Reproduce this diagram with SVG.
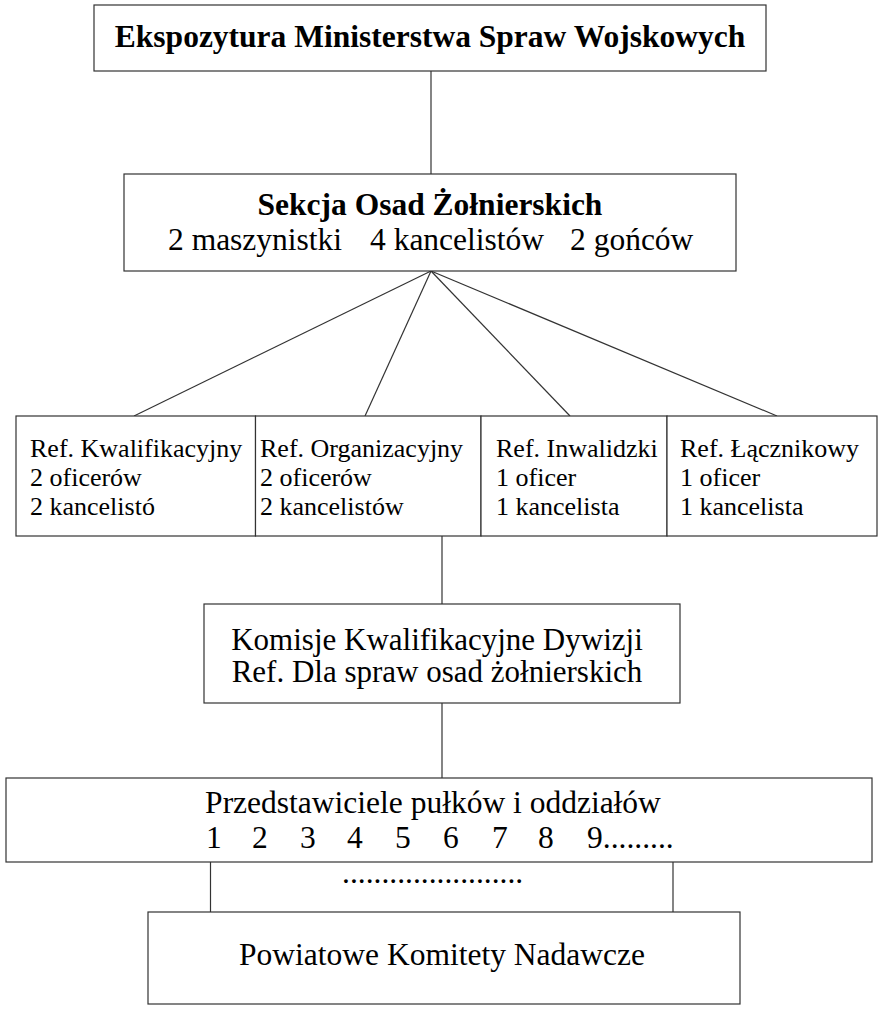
<svg xmlns="http://www.w3.org/2000/svg" width="879" height="1009" viewBox="0 0 879 1009">
<style>
.box{fill:#fff;stroke:#333;stroke-width:1.2}
.ln{stroke:#333;stroke-width:1.2;fill:none}
.t{font-family:"Liberation Serif","Times New Roman",serif;fill:#000}
.b{font-weight:bold;font-size:31.5px}
.r{font-size:31.5px}
.s{font-size:26px}
</style>
<rect width="879" height="1009" fill="#fff"/>
<g id="connectors">
<line class="ln" x1="431" y1="71" x2="431" y2="174"/>
<line class="ln" x1="431" y1="271" x2="134" y2="416"/>
<line class="ln" x1="431" y1="271" x2="365" y2="416"/>
<line class="ln" x1="431" y1="271" x2="570" y2="416"/>
<line class="ln" x1="431" y1="271" x2="777" y2="416"/>
<line class="ln" x1="442" y1="536" x2="442" y2="604"/>
<line class="ln" x1="442" y1="703" x2="442" y2="778"/>
<line class="ln" x1="210.5" y1="862" x2="210.5" y2="912"/>
<line class="ln" x1="673" y1="862" x2="673" y2="912"/>
</g>
<g id="ekspozytura">
<rect class="box" x="94" y="5" width="672" height="66"/>
<text class="t b" x="430" y="47" text-anchor="middle">Ekspozytura Ministerstwa Spraw Wojskowych</text>
</g>
<g id="sekcja">
<rect class="box" x="124" y="174" width="612" height="97"/>
<text class="t b" x="430" y="215" text-anchor="middle">Sekcja Osad Żołnierskich</text>
<text class="t r" y="250"><tspan x="168">2 maszynistki</tspan><tspan x="370">4 kancelistów</tspan><tspan x="570">2 gońców</tspan></text>
</g>
<g id="ref-kwalifikacyjny">
<rect class="box" x="16" y="416" width="239.5" height="120"/>
<text class="t s"><tspan x="30" y="457">Ref. Kwalifikacyjny</tspan><tspan x="30" y="486">2 oficerów</tspan><tspan x="30" y="515">2 kancelistó</tspan></text>
</g>
<g id="ref-organizacyjny">
<rect class="box" x="255.5" y="416" width="225.5" height="120"/>
<text class="t s"><tspan x="260" y="457">Ref. Organizacyjny</tspan><tspan x="260" y="486">2 oficerów</tspan><tspan x="260" y="515">2 kancelistów</tspan></text>
</g>
<g id="ref-inwalidzki">
<rect class="box" x="481" y="416" width="186" height="120"/>
<text class="t s"><tspan x="496" y="457">Ref. Inwalidzki</tspan><tspan x="496" y="486">1 oficer</tspan><tspan x="496" y="515">1 kancelista</tspan></text>
</g>
<g id="ref-lacznikowy">
<rect class="box" x="667" y="416" width="210" height="120"/>
<text class="t s"><tspan x="680" y="457">Ref. Łącznikowy</tspan><tspan x="680" y="486">1 oficer</tspan><tspan x="680" y="515">1 kancelista</tspan></text>
</g>
<g id="komisje">
<rect class="box" x="204" y="604" width="476" height="99"/>
<text class="t" style="font-size:31px" text-anchor="middle"><tspan x="437" y="650">Komisje Kwalifikacyjne Dywizji</tspan><tspan x="437" y="682">Ref. Dla spraw osad żołnierskich</tspan></text>
</g>
<g id="przedstawiciele">
<rect class="box" x="6" y="778" width="866" height="84"/>
<text class="t r" x="433" y="813" text-anchor="middle">Przedstawiciele pułków i oddziałów</text>
<text class="t r" y="848"><tspan x="206">1</tspan><tspan x="252">2</tspan><tspan x="300">3</tspan><tspan x="347">4</tspan><tspan x="395">5</tspan><tspan x="443">6</tspan><tspan x="492">7</tspan><tspan x="538">8</tspan><tspan x="587">9.........</tspan></text>
<text class="t r" x="342" y="883">.......................</text>
</g>
<g id="powiatowe">
<rect class="box" x="148" y="912" width="592" height="92"/>
<text class="t r" x="442" y="965" text-anchor="middle">Powiatowe Komitety Nadawcze</text>
</g>
</svg>
